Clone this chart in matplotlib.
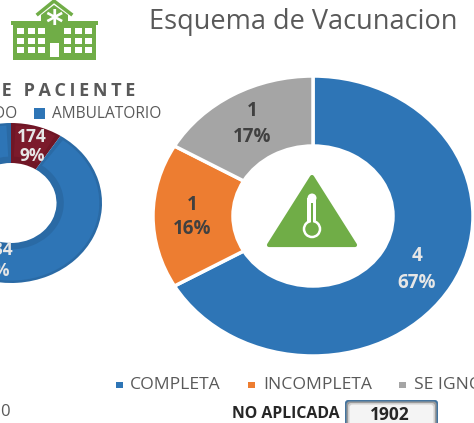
import matplotlib
matplotlib.use("Agg")
import matplotlib.pyplot as plt
from matplotlib.patches import Rectangle, Polygon, Circle, FancyBboxPatch

plt.rcParams['font.family'] = ['Open Sans', 'DejaVu Sans']

# esquema de vacunacion
vac_labels = ["COMPLETA", "INCOMPLETA", "SE IGNORA"]
vac_values = [4, 1, 1]
vac_pct = ["67%", "16%", "17%"]
vac_colors = ["#2E75B6", "#ED7D31", "#A5A5A5"]

# tipo de paciente (cut off on the left)
pac_values = [174, 1728]
pac_text = ["174", "1734"]
pac_pct = ["9%", "91%"]
pac_colors = ["#701626", "#2A6AA5"]
pac_inner = ["#7B1A2B", "#2E75B6"]

W, H = 474, 423
GREEN = "#70AD47"
GREY = "#595959"
LIGHT = "#E6E6E6"

fig = plt.figure(figsize=(W / 100, H / 100), dpi=100)

def Y(y):
    return H - y

def px(points):
    return [(x, Y(y)) for x, y in points]

def donut_axes(cx, cy, rx, ry):
    # the donuts in the picture are stretched, so each gets its own axes
    a = fig.add_axes([(cx - rx) / W, (H - cy - ry) / H, 2 * rx / W, 2 * ry / H])
    return a

def finish(a):
    a.set_xlim(-1, 1)
    a.set_ylim(-1, 1)
    a.set_aspect("auto")
    a.axis("off")

# left donut, darker rim with a lighter inset on each slice
ax_l = donut_axes(11, 203, 91, 80)
ax_l.pie(pac_values, colors=pac_colors, radius=1, startangle=90, counterclock=False,
         wedgeprops=dict(width=0.5, edgecolor="none"))
gap = 3
start = 90
for v, c in zip(pac_values, pac_inner):
    sweep = 360 * v / sum(pac_values)
    ax_l.pie([sweep - 2 * gap, 360 - sweep + 2 * gap], colors=[c, "none"], radius=0.97,
             startangle=start - gap, counterclock=False, wedgeprops=dict(width=0.39, edgecolor="none"))
    start -= sweep
finish(ax_l)

# right donut
ax_r = donut_axes(313, 216, 160, 140)
ax_r.pie(vac_values, colors=vac_colors, radius=1, startangle=90, counterclock=False,
         wedgeprops=dict(width=0.5, edgecolor="white", linewidth=2.5))
finish(ax_r)

# top layer for the text and the icons
top = fig.add_axes([0, 0, 1, 1])
top.set_xlim(0, W)
top.set_ylim(0, H)
top.axis("off")
top.patch.set_alpha(0)

LAB = dict(fontsize=13.5, fontweight="bold", va="center")
LAB_L = dict(fontsize=12.5, fontweight="bold", va="center")
top.text(32, Y(137), pac_text[0], color=LIGHT, ha="center", **LAB_L)
top.text(32, Y(156), pac_pct[0], color=LIGHT, ha="center", **LAB_L)
top.text(14, Y(250), pac_text[1], color=LIGHT, ha="right", **LAB_L)
top.text(10, Y(271), pac_pct[1], color=LIGHT, ha="right", **LAB_L)

lab_pos = [(417, 256, 283), (192, 205, 229), (252, 111, 137)]
lab_cols = ["#E6E6E6", "#404040", "#404040"]
for v, p, (x, y1, y2), c in zip(vac_values, vac_pct, lab_pos, lab_cols):
    top.text(x, Y(y1), str(v), color=c, ha="center", **LAB)
    top.text(x, Y(y2), p, color=c, ha="center", **LAB)

# hospital icon
top.add_patch(Rectangle((13, Y(60)), 83, 37, color=GREEN, lw=0))
top.add_patch(Rectangle((11, Y(25)), 87, 4, color=GREEN, lw=0))
top.add_patch(Polygon(px([(41, 22), (41, 15), (54, 5), (68, 15), (68, 22)]), color=GREEN, lw=0))
top.plot([38, 54, 71], [Y(14), Y(1), Y(14)], color=GREEN, lw=2.5)
for wx in [17, 28, 38, 64, 75, 85]:
    for wy in [28, 38, 47]:
        top.add_patch(Rectangle((wx, Y(wy + 6)), 7, 6, color="white", lw=0))
top.add_patch(Rectangle((50, Y(57)), 9, 14, color="white", lw=0))
top.text(54, Y(24), "*", color="white", fontsize=24, fontweight="bold", family="DejaVu Sans",
         ha="center", va="center")

# thermometer icon
top.add_patch(Polygon(px([(312, 177), (355, 245), (269, 245)]), closed=True, facecolor=GREEN,
                      edgecolor=GREEN, lw=3, joinstyle="round"))
top.add_patch(Rectangle((307.5, Y(225)), 9, 27, facecolor="white", lw=0))
top.add_patch(Circle((312, Y(198)), 4.5, color="white", lw=0))
top.add_patch(Circle((312, Y(229)), 8, facecolor=GREEN, edgecolor="white", lw=1.8))
top.add_patch(Rectangle((310.7, Y(224)), 2.4, 21, color=GREEN, lw=0))

# titles
top.text(303, Y(22), "Esquema de Vacunacion", color=GREY, fontsize=19.5, ha="center", va="center")
top.text(135, Y(91), "\u2009".join("TIPO DE PACIENTE"), color=GREY, fontsize=13, fontweight="bold",
         ha="right", va="center")

# legend of the left donut
top.add_patch(Rectangle((34, Y(119)), 11, 11, color="#2E75B6", lw=0))
top.text(161, Y(114), "AMBULATORIO", color=GREY, fontsize=11.2, ha="right", va="center")
top.text(18, Y(114), "HOSPITALIZADO", color=GREY, fontsize=11.2, ha="right", va="center")

# legend of the right donut
for x, c in zip([116, 248, 399], vac_colors):
    top.add_patch(Rectangle((x, Y(388)), 7, 6, color=c, lw=0))
for x, s in zip([130, 263, 414], vac_labels):
    top.text(x, Y(385), s, color=GREY, fontsize=12.6, ha="left", va="center")

# bottom row
top.text(0, Y(412), "0", color=GREY, fontsize=12, ha="left", va="center")
top.text(340, Y(414), "NO APLICADA", color="#262626", fontsize=11.4, fontweight="bold", ha="right", va="center")
# button with a soft inner shadow
for inset, c in zip([0, 1.5, 3, 4.5], ["#44749E", "#9A9A9A", "#CFCFCF", "#F4F4F4"]):
    top.add_patch(FancyBboxPatch((345 + inset, Y(430)), 93 - 2 * inset, 30 - inset,
                                 boxstyle="round,pad=0,rounding_size=3", facecolor=c, edgecolor="none"))
top.text(390, Y(415), "1902", color="#262626", fontsize=12.5, fontweight="bold", ha="center", va="center")

fig.savefig("out.png", dpi=100)
